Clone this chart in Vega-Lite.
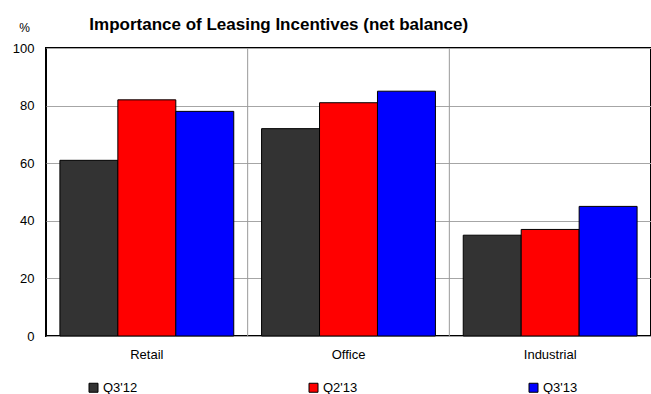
{
  "$schema": "https://vega.github.io/schema/vega-lite/v6.json",
  "width": 605,
  "height": 288,
  "autosize": {"type": "none"},
  "padding": {"left": 46, "top": 48, "right": 0, "bottom": 58},
  "title": {
    "text": "Importance of Leasing Incentives (net balance)",
    "anchor": "start",
    "dx": 77,
    "offset": 0,
    "dy": 26,
    "baseline": "alphabetic",
    "font": "Liberation Sans",
    "fontSize": 17,
    "fontWeight": "bold",
    "color": "#000000"
  },
  "layer": [
    {
      "data": {"values": [{"category": "Office"}, {"category": "Industrial"}]},
      "mark": {"type": "rule", "color": "#999999", "strokeWidth": 1},
      "encoding": {
        "x": {"field": "category", "type": "nominal", "bandPosition": 0,
              "scale": {"domain": ["Retail", "Office", "Industrial"], "paddingInner": 0, "paddingOuter": 0},
              "axis": {"title": null, "labelAngle": 0, "ticks": false, "domain": false, "labelPadding": 12,
                       "bandPosition": 0.5, "labelAlign": "center",
                       "labelFontSize": 13, "labelFont": "Liberation Sans", "labelColor": "#000000"}}
      }
    },
    {
      "data": {"values": [
        {"category": "Retail", "series": "Q3'12", "value": 61},
        {"category": "Retail", "series": "Q2'13", "value": 82},
        {"category": "Retail", "series": "Q3'13", "value": 78},
        {"category": "Office", "series": "Q3'12", "value": 72},
        {"category": "Office", "series": "Q2'13", "value": 81},
        {"category": "Office", "series": "Q3'13", "value": 85},
        {"category": "Industrial", "series": "Q3'12", "value": 35},
        {"category": "Industrial", "series": "Q2'13", "value": 37},
        {"category": "Industrial", "series": "Q3'13", "value": 45}
      ]},
      "mark": {"type": "bar", "stroke": "#000000", "strokeWidth": 1},
      "encoding": {
        "x": {"field": "category", "type": "nominal",
              "scale": {"domain": ["Retail", "Office", "Industrial"], "paddingInner": 0, "paddingOuter": 0},
              "axis": {"title": null, "labelAngle": 0, "ticks": false, "domain": false, "labelPadding": 12,
                       "bandPosition": 0.5, "labelAlign": "center",
                       "labelFontSize": 13, "labelFont": "Liberation Sans", "labelColor": "#000000"}},
        "xOffset": {"field": "series", "type": "nominal",
                    "scale": {"domain": ["Q3'12", "Q2'13", "Q3'13"], "paddingInner": 0, "paddingOuter": 0.24}},
        "y": {"field": "value", "type": "quantitative",
              "scale": {"domain": [0, 100], "nice": false},
              "axis": {"values": [0, 20, 40, 60, 80, 100], "title": "%", "titleAngle": 0,
                       "titleX": -22, "titleY": -17, "titleAlign": "center", "titleBaseline": "alphabetic",
                       "titleFontWeight": "normal", "titleFontSize": 12, "titleFont": "Liberation Sans",
                       "ticks": false, "domain": false, "labelPadding": 12, "labelFontSize": 13,
                       "labelFont": "Liberation Sans", "labelColor": "#000000",
                       "grid": true, "gridColor": "#a6a6a6", "gridWidth": 1}},
        "color": {"field": "series", "type": "nominal",
                  "scale": {"domain": ["Q3'12", "Q2'13", "Q3'13"], "range": ["#333333", "#ff0000", "#0000ff"]},
                  "legend": {"title": null, "orient": "none", "direction": "horizontal", "columns": 3,
                             "legendX": 41, "legendY": 333, "columnPadding": 169,
                             "symbolType": "square", "symbolSize": 81, "symbolStrokeColor": "#000000",
                             "symbolStrokeWidth": 1, "symbolOpacity": 1, "labelFontSize": 13, "labelOffset": 3,
                             "labelFont": "Liberation Sans", "labelColor": "#000000"}}
      }
    }
  ],
  "config": {
    "view": {"stroke": "#000000", "strokeWidth": 2},
    "font": "Liberation Sans"
  }
}
